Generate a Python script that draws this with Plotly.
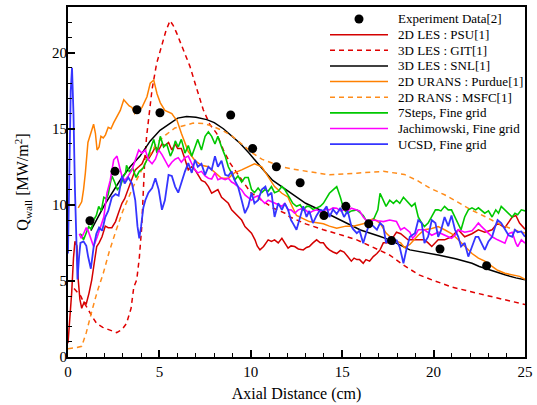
import plotly.graph_objects as go

# ---------------- data ----------------
exp_x = [1.2, 2.57, 3.77, 5.03, 8.9, 10.1, 11.4, 12.7, 14.0, 15.2, 16.45, 17.7, 20.35, 22.9]
exp_y = [8.95, 12.2, 16.25, 16.05, 15.9, 13.7, 12.5, 11.45, 9.3, 9.9, 8.75, 7.65, 7.1, 6.0]

psu_x = [0, 0.1, 0.2, 0.3, 0.38, 0.49, 0.56, 0.65, 0.75, 0.88, 1.0, 1.15, 1.3, 1.45, 1.57, 1.7, 1.86,
         2.04, 2.2, 2.4, 2.6, 2.77, 2.95, 3.1, 3.3, 3.5, 3.68, 3.87, 4.05, 4.23, 4.4, 4.6, 4.78, 4.96,
         5.14, 5.3, 5.5, 5.68, 5.86, 6.0, 6.2, 6.4, 6.58, 6.77, 6.95, 7.1, 7.3, 7.5, 7.68, 7.86, 8.04,
         8.2, 8.4, 8.6, 8.77, 8.95, 9.13, 9.3, 9.5, 9.68, 9.86, 10.04, 10.23, 10.35, 10.5, 10.7, 10.95,
         11.13, 11.3, 11.5, 11.7, 11.86, 12.04, 12.2, 12.4, 12.6, 12.87, 13.05, 13.2, 13.4, 13.6, 13.8,
         13.97, 14.15, 14.3, 14.5, 14.7, 14.9, 15.1, 15.3, 15.5, 15.65, 15.8, 15.95, 16.15, 16.3, 16.5,
         16.7, 16.9, 17.07, 17.25, 17.4, 17.6, 17.8, 17.97, 18.2, 18.4, 18.6, 18.8, 19.16, 19.5, 19.7,
         19.9, 20.25, 20.6, 20.98, 21.35, 21.7, 22.1, 22.45, 22.8, 23.2, 23.5, 23.9, 24.3, 24.5, 24.7, 25.0]
psu_y = [0.9, 2.5, 4.2, 6.5, 7.6, 7.3, 5.07, 3.8, 3.2, 3.6, 3.5, 4.2, 5.07, 6.3, 7.26, 7.5, 7.9,
         8.6, 8.5, 8.5, 8.9, 9.5, 10.1, 10.4, 11.1, 11.8, 12.3, 12.5, 12.7, 13.2, 13.0, 13.4, 13.8, 13.6,
         14.0, 13.9, 14.1, 13.6, 14.0, 13.7, 13.7, 13.0, 12.3, 12.5, 12.3, 12.0, 11.6, 11.5, 11.2, 10.76, 10.9,
         11.0, 10.5, 10.3, 10.1, 9.67, 9.45, 9.3, 9.0, 8.57, 8.36, 8.14, 7.7, 7.3, 7.04, 7.26, 7.7,
         7.6, 7.7, 7.5, 7.8, 7.5, 7.15, 7.3, 7.26, 7.1, 7.04, 7.2, 7.26, 7.5, 7.7, 7.5,
         7.5, 7.2, 7.04, 6.9, 6.8, 7.0, 6.9, 6.6, 6.3, 6.5, 6.4, 6.4, 6.16, 6.4, 6.3,
         6.6, 6.8, 7.04, 7.5, 7.5, 7.5, 7.9, 8.2, 8.1, 7.9, 7.7, 7.7, 7.7, 7.7, 7.5,
         7.26, 7.7, 7.7, 7.9, 8.36, 7.9, 8.1, 8.36, 8.2, 8.36, 8.8, 8.5, 9.2, 9.3, 8.8, 8.4]

git_x = [0.33, 0.5, 0.7, 0.85, 1.02, 1.3, 1.57, 1.9, 2.2, 2.66, 2.95, 3.2, 3.45, 3.6, 3.76, 3.9, 4.03,
         4.1, 4.2, 4.3, 4.4, 4.6, 4.85, 5.1, 5.35, 5.58, 5.75, 5.94, 6.3, 6.67, 7.05, 7.4, 7.75, 8.13,
         8.5, 8.86, 9.5, 10.0, 10.6, 11.2, 11.87, 12.14, 13.0, 13.97, 15.0, 15.8, 16.7, 17.6, 18.4, 19.2,
         19.9, 21.0, 22.0, 23.0, 24.0, 25.0]
git_y = [4.5, 4.3, 4.0, 3.6, 3.3, 2.7, 2.2, 1.95, 1.8, 1.6, 1.8, 2.2, 3.2, 4.6, 5.07, 6.5, 8.5,
         10.5, 13.0, 14.5, 15.6, 17.6, 19.3, 20.4, 21.4, 22.1, 21.8, 21.3, 20.2, 19.1, 17.6, 16.25, 15.3, 14.7,
         13.6, 12.75, 11.65, 10.8, 10.3, 9.8, 9.45, 9.2, 8.75, 8.36, 8.0, 7.7, 7.2, 6.7, 6.0, 5.4,
         5.07, 4.6, 4.3, 4.0, 3.75, 3.45]

snl_x = [1.25, 2.0, 2.84, 3.4, 3.94, 4.5, 5.03, 5.6, 6.0, 6.49, 7.0, 7.59, 8.0, 8.5, 9.0, 9.41, 9.9,
         10.3, 10.75, 11.2, 11.7, 12.14, 13.0, 13.96, 15.0, 16.0, 17.0, 17.6, 18.7, 19.5, 20.25, 21.2,
         22.1, 22.5, 23.2, 23.9, 24.5, 25.0]
snl_y = [8.3, 10.0, 11.6, 12.5, 13.2, 14.2, 14.9, 15.4, 15.7, 15.8, 15.75, 15.6, 15.4, 15.0, 14.5, 14.05, 13.4,
         12.8, 12.2, 11.6, 11.2, 10.8, 10.1, 9.56, 8.95, 8.35, 7.95, 7.7, 7.04, 6.88, 6.7, 6.45,
         6.16, 5.95, 5.65, 5.4, 5.2, 5.07]

purdue_x = [0.56, 0.62, 0.75, 0.85, 0.95, 1.09, 1.2, 1.3, 1.4, 1.5, 1.59, 1.7, 1.8, 1.93, 2.05, 2.2,
            2.35, 2.5, 2.7, 2.86, 3.05, 3.2, 3.35, 3.5, 3.65, 3.77, 3.9, 4.05, 4.2, 4.32, 4.5, 4.69,
            4.87, 5.05, 5.3, 5.5, 5.68, 5.85, 5.95, 6.2, 6.58, 6.95, 7.3, 7.68, 8.04, 8.4, 8.77, 9.1,
            9.5, 9.86, 10.2, 10.6, 10.95, 11.3, 11.7, 12.04, 12.14, 12.5, 13.2, 13.97, 14.3, 14.7, 15.2,
            15.6, 16.15, 16.5, 16.7, 17.07, 17.4, 17.8, 18.2, 18.4, 18.7, 19.16, 19.5, 19.9, 20.25, 20.6,
            21.0, 21.35, 21.7, 22.1, 22.45, 22.8, 23.2, 23.5, 23.9, 24.3, 24.7, 25.0]
purdue_y = [9.8, 9.9, 10.2, 11.0, 12.1, 14.1, 14.5, 15.0, 15.3, 14.7, 13.6, 13.8, 14.5, 14.4, 14.6, 15.1,
            15.0, 15.4, 15.8, 16.2, 16.9, 16.7, 16.5, 16.4, 16.0, 16.2, 16.2, 16.4, 16.8, 17.1, 18.0, 18.2,
            17.3, 16.7, 16.2, 16.1, 16.0, 15.7, 15.6, 14.7, 13.5, 12.9, 12.6, 12.5, 12.1, 11.75, 11.75, 12.1,
            12.3, 12.5, 12.7, 12.5, 11.86, 11.2, 10.76, 10.5, 10.2, 9.3, 8.9, 8.75, 8.6, 8.46, 8.6,
            8.6, 8.75, 9.0, 9.1, 8.8, 8.14, 7.7, 7.5, 7.2, 7.4, 8.0, 8.36, 8.45, 8.57, 8.36,
            8.1, 7.7, 7.26, 6.8, 6.5, 6.3, 5.95, 5.7, 5.5, 5.4, 5.3, 5.1]

msfc_x = [0, 0.4, 0.75, 1.0, 1.3, 1.6, 1.93, 2.25, 2.57, 3.0, 3.57, 4.2, 4.85, 5.35, 5.85, 6.13, 6.85,
          7.4, 7.94, 8.5, 9.0, 9.5, 10.1, 10.6, 11.2, 11.7, 12.3, 13.0, 14.3, 15.8, 17.25, 18.4, 19.1,
          19.8, 20.6, 21.3, 22.0, 22.8, 23.5, 24.3, 25.0]
msfc_y = [0.55, 0.6, 0.7, 1.6, 3.0, 4.3, 5.5, 6.9, 8.1, 9.6, 11.2, 12.7, 14.05, 14.6, 15.05, 15.15, 15.37,
          15.35, 15.15, 14.85, 14.5, 14.0, 13.4, 13.0, 12.74, 12.5, 12.35, 12.2, 11.97, 12.08, 12.2, 12.0, 11.6,
          11.1, 10.66, 10.2, 9.7, 9.23, 8.8, 8.4, 8.14]

steps_x = [0.66, 0.75, 0.85, 1.0, 1.13, 1.27, 1.4, 1.55, 1.68, 1.82, 1.96, 2.1, 2.2, 2.31, 2.4, 2.55, 2.7,
           2.86, 3.05, 3.15, 3.2, 3.35, 3.54, 3.72, 3.9, 4.1, 4.32, 4.5, 4.69, 4.87, 5.05, 5.23, 5.4, 5.6,
           5.75, 5.87, 6.03, 6.2, 6.4, 6.58, 6.77, 6.95, 7.1, 7.3, 7.5, 7.68, 7.86, 8.04, 8.2, 8.4, 8.6,
           8.77, 8.95, 9.13, 9.3, 9.5, 9.68, 9.86, 10.04, 10.2, 10.4, 10.6, 10.77, 10.95, 11.13, 11.3, 11.5,
           11.7, 11.86, 12.04, 12.2, 12.3, 12.5, 12.7, 12.87, 13.05, 13.2, 13.4, 13.6, 13.8, 13.97, 14.15,
           14.3, 14.5, 14.7, 14.9, 15.1, 15.3, 15.5, 15.8, 15.95, 16.15, 16.3, 16.5, 16.7, 16.95, 17.07,
           17.25, 17.4, 17.6, 17.8, 17.97, 18.15, 18.35, 18.5, 18.7, 18.8, 18.98, 19.16, 19.35, 19.5, 19.7,
           19.9, 20.1, 20.25, 20.4, 20.6, 20.8, 20.98, 21.17, 21.35, 21.5, 21.7, 21.9, 22.1, 22.3, 22.45,
           22.6, 22.8, 23.0, 23.2, 23.4, 23.55, 23.7, 23.9, 24.1, 24.3, 24.45, 24.6, 24.8, 25.0]
steps_y = [8.1, 8.0, 7.7, 8.2, 8.57, 8.4, 9.0, 9.3, 9.9, 9.6, 10.5, 10.4, 10.7, 11.4, 11.9, 11.5, 11.0,
           11.2, 11.9, 12.1, 12.6, 12.2, 12.4, 11.8, 12.2, 12.4, 12.96, 13.6, 14.3, 13.4, 14.5, 13.8, 14.0, 13.2,
           13.6, 14.2, 13.8, 14.3, 13.4, 13.9, 13.2, 13.8, 14.3, 13.6, 14.5, 14.8, 14.5, 14.0, 14.5, 13.8, 13.2,
           12.5, 12.1, 11.65, 11.9, 11.5, 11.8, 11.8, 11.0, 10.8, 11.1, 10.8, 11.0, 10.9, 11.2, 10.8, 10.9,
           11.2, 11.0, 10.6, 10.3, 10.1, 9.9, 10.0, 9.67, 9.9, 9.9, 9.7, 9.8, 9.9, 10.1, 10.5,
           10.76, 10.98, 11.2, 10.5, 9.67, 9.45, 9.6, 9.67, 9.5, 9.3, 9.0, 8.8, 9.0, 9.67, 10.76,
           10.3, 9.9, 10.3, 10.1, 10.3, 10.1, 10.5, 10.3, 10.1, 9.9, 10.1, 9.2, 8.8, 8.57, 8.8,
           9.2, 9.67, 9.67, 9.6, 9.9, 9.67, 9.67, 9.2, 8.8, 8.36, 9.2, 9.67, 9.8, 9.67, 9.8,
           9.67, 9.45, 9.6, 9.2, 9.67, 9.45, 9.9, 9.67, 9.4, 9.2, 9.45, 9.35, 9.67, 9.6]

jach_x = [0.62, 0.72, 0.85, 1.0, 1.1, 1.22, 1.4, 1.6, 1.8, 1.96, 2.13, 2.31, 2.5, 2.68, 2.86, 2.95, 3.1,
          3.3, 3.5, 3.68, 3.87, 4.05, 4.23, 4.4, 4.6, 4.78, 4.96, 5.14, 5.3, 5.5, 5.68, 5.86, 6.03, 6.2,
          6.4, 6.58, 6.77, 6.95, 7.1, 7.3, 7.5, 7.68, 7.86, 8.04, 8.2, 8.4, 8.6, 8.77, 8.95, 9.1, 9.3,
          9.5, 9.68, 9.86, 10.04, 10.2, 10.4, 10.6, 10.77, 10.95, 11.13, 11.3, 11.5, 11.7, 11.86, 12.04,
          12.2, 12.4, 12.6, 12.87, 13.05, 13.2, 13.4, 13.6, 13.8, 13.97, 14.15, 14.3, 14.5, 14.7, 14.9,
          15.1, 15.3, 15.5, 15.8, 15.95, 16.15, 16.3, 16.5, 16.7, 16.95, 17.25, 17.6, 17.97, 18.2, 18.4,
          18.7, 18.85, 19.0, 19.16, 19.5, 19.7, 19.9, 20.25, 20.6, 20.98, 21.17, 21.35, 21.7, 22.1, 22.3,
          22.45, 22.6, 22.8, 23.0, 23.2, 23.5, 23.9, 24.1, 24.3, 24.5, 24.6, 24.8, 25.0]
jach_y = [8.1, 7.8, 8.1, 8.5, 8.3, 7.9, 7.26, 7.9, 8.7, 9.2, 10.76, 11.6, 12.96, 13.2, 12.3, 11.9, 11.6,
          11.9, 12.3, 12.96, 13.6, 13.4, 13.6, 12.96, 12.7, 13.0, 13.6, 13.3, 12.96, 12.5, 12.8, 13.0, 13.1, 12.8,
          13.1, 13.2, 12.7, 12.3, 12.1, 12.2, 11.9, 11.75, 11.7, 12.1, 11.65, 11.75, 11.65, 11.75, 11.5, 11.4, 11.2,
          10.98, 10.65, 10.5, 10.3, 10.5, 10.6, 10.3, 10.1, 10.3, 10.2, 10.1, 10.0, 9.9, 10.1, 9.67,
          9.67, 9.45, 9.67, 9.78, 9.6, 9.45, 9.6, 9.67, 9.55, 9.6, 9.7, 9.67, 9.8, 9.78, 9.6,
          9.67, 9.6, 9.78, 9.67, 9.6, 9.2, 9.0, 8.9, 9.0, 8.95, 8.9, 9.0, 8.9, 8.36, 8.5,
          8.2, 7.8, 8.0, 8.36, 8.36, 8.2, 8.0, 8.2, 8.0, 7.8, 8.0, 8.36, 8.2, 8.3, 8.57,
          8.8, 8.6, 8.36, 8.1, 7.9, 7.7, 7.48, 8.1, 8.2, 7.48, 7.26, 7.7, 7.48]

ucsd_x = [0, 0.08, 0.15, 0.22, 0.3, 0.38, 0.45, 0.52, 0.6, 0.68, 0.85, 1.0, 1.1, 1.25, 1.4, 1.55, 1.7,
          1.87, 2.04, 2.2, 2.4, 2.6, 2.77, 2.95, 3.1, 3.3, 3.5, 3.68, 3.8, 3.9, 4.0, 4.12, 4.23, 4.4,
          4.6, 4.78, 4.96, 5.14, 5.3, 5.5, 5.68, 5.86, 6.03, 6.2, 6.4, 6.58, 6.77, 6.95, 7.1, 7.3, 7.5,
          7.68, 7.86, 8.04, 8.2, 8.4, 8.6, 8.77, 8.95, 9.1, 9.3, 9.5, 9.68, 9.86, 10.04, 10.2, 10.4,
          10.6, 10.8, 10.95, 11.13, 11.3, 11.5, 11.7, 11.86, 12.04, 12.2, 12.3, 12.5, 12.7, 12.87, 13.05,
          13.2, 13.4, 13.6, 13.8, 13.97, 14.15, 14.3, 14.5, 14.7, 14.9, 15.1, 15.3, 15.5, 15.6, 15.8,
          15.95, 16.15, 16.3, 16.5, 16.7, 16.9, 17.07, 17.25, 17.4, 17.6, 17.8, 17.97, 18.15, 18.35, 18.5,
          18.7, 18.98, 19.16, 19.35, 19.5, 19.7, 19.9, 20.1, 20.25, 20.4, 20.6, 20.8, 20.98, 21.17, 21.35,
          21.5, 21.7, 21.9, 22.1, 22.3, 22.45, 22.6, 22.8, 23.0, 23.2, 23.35, 23.5, 23.7, 23.9, 24.1,
          24.3, 24.45, 24.6, 24.8, 25.0]
ucsd_y = [6.8, 12.0, 17.5, 19.0, 16.0, 11.0, 7.0, 5.1, 6.5, 7.5, 7.6, 7.3, 6.6, 5.8, 7.2, 8.1, 8.5,
          8.3, 9.2, 9.6, 10.5, 10.7, 10.6, 11.9, 11.4, 11.8, 11.4, 10.3, 8.6, 7.8, 8.6, 9.8, 10.3, 10.8,
          11.1, 11.75, 11.0, 9.67, 10.3, 11.97, 11.9, 11.2, 10.8, 11.5, 12.2, 12.74, 12.1, 12.96, 12.5, 12.7, 11.97,
          12.5, 12.3, 13.2, 12.5, 12.9, 11.97, 11.9, 12.2, 11.65, 11.2, 10.3, 9.45, 9.9, 10.8, 10.1, 10.3,
          11.0, 11.2, 10.6, 10.8, 9.2, 10.1, 9.67, 10.1, 9.67, 9.0, 8.8, 8.36, 9.2, 9.9, 9.2,
          9.6, 8.8, 9.3, 9.67, 9.6, 9.9, 9.2, 9.7, 9.4, 9.8, 9.2, 9.6, 8.6, 8.4, 8.14,
          8.3, 7.48, 8.1, 8.8, 8.6, 8.36, 8.8, 8.6, 7.48, 7.9, 7.4, 7.7, 7.2, 6.16, 7.0,
          7.9, 8.14, 9.0, 8.8, 7.48, 7.9, 9.0, 8.8, 7.9, 8.3, 9.2, 8.6, 9.3, 8.36, 7.9,
          7.26, 7.5, 6.6, 7.26, 7.9, 7.9, 7.5, 7.04, 7.6, 7.9, 8.5, 9.0, 8.8, 8.36, 8.0,
          7.9, 8.36, 8.2, 8.25, 7.9]

x_ticks = [0, 5, 10, 15, 20, 25]
y_ticks = [0, 5, 10, 15, 20]

# ---------------- figure ----------------
FONT = "Liberation Serif, Times New Roman, serif"
fig = go.Figure()

series = [
    (psu_x, psu_y, "2D LES : PSU[1]", "#D40000", "solid", 1.5),
    (git_x, git_y, "3D LES : GIT[1]", "#E00000", "5px,4px", 1.5),
    (snl_x, snl_y, "3D LES : SNL[1]", "black", "solid", 1.5),
    (purdue_x, purdue_y, "2D URANS : Purdue[1]", "#FF8000", "solid", 1.5),
    (msfc_x, msfc_y, "2D RANS : MSFC[1]", "#FF8C1A", "5px,4px", 1.5),
    (steps_x, steps_y, "7Steps, Fine grid", "#00C800", "solid", 1.6),
    (jach_x, jach_y, "Jachimowski, Fine grid", "#FF00FF", "solid", 1.6),
    (ucsd_x, ucsd_y, "UCSD, Fine grid", "#3535FF", "solid", 1.8),
]
for xs, ys, name, col, dash, w in series:
    fig.add_trace(go.Scatter(x=xs, y=ys, mode="lines", name=name, showlegend=False,
                             line=dict(color=col, dash=dash, width=w)))
fig.add_trace(go.Scatter(x=exp_x, y=exp_y, mode="markers", name="Experiment Data[2]",
                         showlegend=False, marker=dict(color="black", size=9)))

# ---- legend drawn in paper coordinates (lines of ~58 px, as in the reference) ----
PW, PH = 457.0, 350.0            # plot-area size in px
leg_x0 = (330 - 68) / PW
leg_x1 = (388 - 68) / PW
leg_tx = (396 - 68) / PW
row0 = (357 - 19) / PH
drow = 15.65 / PH
shapes, annotations = [], []
cx = (359 - 68) / PW
rx, ry = 4.5 / PW, 4.5 / PH
shapes.append(dict(type="circle", xref="paper", yref="paper", x0=cx - rx, x1=cx + rx,
                   y0=row0 - ry, y1=row0 + ry, fillcolor="black", line=dict(color="black", width=0)))
annotations.append(dict(text="Experiment Data[2]", xref="paper", yref="paper", x=leg_tx, y=row0,
                        xanchor="left", yanchor="middle", showarrow=False,
                        font=dict(family=FONT, size=13, color="black")))
for i, (_, _, name, col, dash, w) in enumerate(series, start=1):
    yy = row0 - i * drow
    shapes.append(dict(type="line", xref="paper", yref="paper", x0=leg_x0, x1=leg_x1, y0=yy, y1=yy,
                       line=dict(color=col, dash=dash, width=w)))
    annotations.append(dict(text=name, xref="paper", yref="paper", x=leg_tx, y=yy,
                            xanchor="left", yanchor="middle", showarrow=False,
                            font=dict(family=FONT, size=13, color="black")))

axis_common = dict(showline=True, linecolor="black", linewidth=2, mirror=True,
                   ticks="inside", ticklen=7, tickwidth=1.5, tickcolor="black",
                   showgrid=False, zeroline=False,
                   tickfont=dict(family=FONT, size=15, color="black"))

fig.update_xaxes(range=[0, 25], tickvals=x_ticks,
                 minor=dict(ticks="inside", dtick=1, ticklen=4, tickcolor="black", tickwidth=1),
                 title=dict(text="Axial Distance (cm)", font=dict(family=FONT, size=16, color="black"),
                            standoff=9),
                 **axis_common)
fig.update_yaxes(range=[0, 23], tickvals=y_ticks, ticklabelstandoff=-4,
                 minor=dict(ticks="inside", dtick=1, ticklen=4, tickcolor="black", tickwidth=1),
                 title=dict(text="Q<sub>wall</sub> [MW/m<sup>2</sup>]",
                            font=dict(family=FONT, size=16, color="black"), standoff=19),
                 **axis_common)

fig.update_layout(
    width=537, height=405,
    margin=dict(l=68, r=12, t=7, b=48, autoexpand=False),
    paper_bgcolor="white", plot_bgcolor="white",
    font=dict(family=FONT, color="black"),
    shapes=shapes, annotations=annotations,
    showlegend=False,
)

fig.write_html("out.html", config={"displayModeBar": False},
               post_script="document.body.style.margin='0px';")
